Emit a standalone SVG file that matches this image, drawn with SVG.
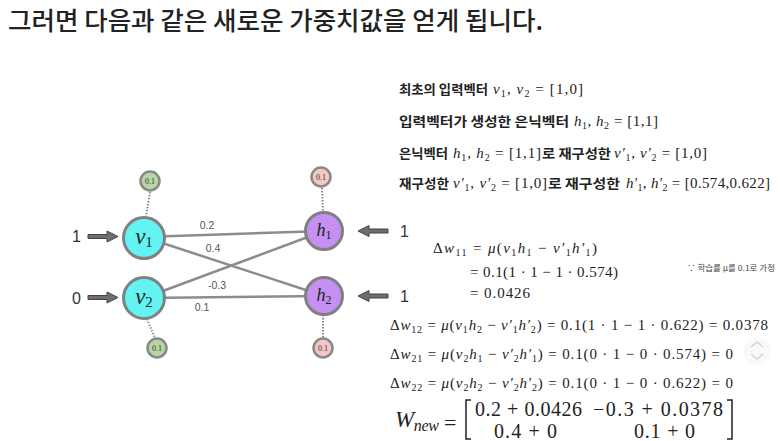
<svg xmlns="http://www.w3.org/2000/svg" width="781" height="441" viewBox="0 0 781 441">
<style>
.title{font-family:"Noto Sans CJK KR","Noto Sans",sans-serif;font-size:25px;fill:#222;font-weight:500}
.kr{font-family:"Noto Sans CJK KR","Noto Sans",sans-serif;font-size:13px;fill:#222;font-weight:700}
.m{font-family:"Liberation Serif","DejaVu Serif",serif;fill:#222}
.mi{font-family:"Liberation Serif","DejaVu Serif",serif;font-style:italic}
.up{font-style:normal}
.eq{font-family:"Liberation Serif","DejaVu Serif",serif;font-size:15px;fill:#222}
.io{font-family:"Liberation Sans","Noto Sans",sans-serif;font-size:16px;fill:#333}
.wl{font-family:"Liberation Sans","Noto Sans",sans-serif;font-size:10.5px;fill:#555;text-anchor:middle}
.edge{stroke:#8c8c8c;stroke-width:2.5;fill:none}
.dot{stroke:#888;stroke-width:2;stroke-dasharray:1.5 1.5;fill:none}
.vn{fill:#63f3f3;stroke:#808080;stroke-width:3}
.hn{fill:#c690f2;stroke:#808080;stroke-width:3}
.bg{fill:#b9d5a3;stroke:#888;stroke-width:2.5}
.bp{fill:#f5c6c6;stroke:#888;stroke-width:2.5}
.bt{font-family:"Liberation Serif",serif;font-size:8px;fill:#333;text-anchor:middle}
.nl{font-family:"Liberation Serif",serif;font-style:italic;fill:#222;text-anchor:middle}
.arr{fill:#6e6e6e;stroke:#444;stroke-width:1}
</style>

<text class="title" x="8" y="30" textLength="535" lengthAdjust="spacingAndGlyphs">그러면 다음과 같은 새로운 가중치값을 얻게 됩니다.</text>

<g id="connectors">
  <line class="edge" x1="144" y1="237" x2="324" y2="231"/>
  <line class="edge" x1="144" y1="237" x2="324" y2="296"/>
  <line class="edge" x1="144" y1="298" x2="324" y2="231"/>
  <line class="edge" x1="144" y1="298" x2="324" y2="296"/>
  <line class="dot" x1="150" y1="192" x2="146" y2="216"/>
  <line class="dot" x1="147" y1="319" x2="155" y2="338"/>
  <line class="dot" x1="322" y1="188" x2="323" y2="212"/>
  <line class="dot" x1="323" y1="315" x2="323" y2="338"/>
  <text class="wl" x="207" y="229">0.2</text>
  <text class="wl" x="213" y="252">0.4</text>
  <text class="wl" x="217" y="289">-0.3</text>
  <text class="wl" x="202" y="311">0.1</text>
  <path class="arr" d="M88,234.5 H107 V231 L118,236.5 L107,242 V238.5 H88 Z"/>
  <path class="arr" d="M88,295.5 H107 V292 L118,297.5 L107,303 V299.5 H88 Z"/>
  <path class="arr" d="M388,229 H369 V225.5 L358,231 L369,236.5 V233 H388 Z"/>
  <path class="arr" d="M388,294 H369 V290.5 L358,296 L369,301.5 V298 H388 Z"/>
</g>

<g id="in1"><text class="io" x="72" y="242">1</text></g>
<g id="in0"><text class="io" x="72" y="304">0</text></g>
<g id="out1"><text class="io" x="400" y="237">1</text></g>
<g id="out2"><text class="io" x="400" y="302">1</text></g>

<g id="v1"><circle class="vn" cx="144" cy="238" r="20.5"/><text class="nl" x="144" y="244" font-size="23">v<tspan class="up" font-size="15" dy="3">1</tspan></text></g>
<g id="v2"><circle class="vn" cx="144" cy="298" r="20.5"/><text class="nl" x="144" y="304" font-size="23">v<tspan class="up" font-size="15" dy="3">2</tspan></text></g>
<g id="h1"><circle class="hn" cx="324" cy="231" r="18.5"/><text class="nl" x="324" y="236" font-size="18">h<tspan class="up" font-size="12" dy="3">1</tspan></text></g>
<g id="h2"><circle class="hn" cx="324" cy="296" r="18.5"/><text class="nl" x="324" y="301" font-size="18">h<tspan class="up" font-size="12" dy="3">2</tspan></text></g>

<g id="bv1"><circle class="bg" cx="150" cy="181" r="9.5"/><text class="bt" x="150" y="184">0.1</text></g>
<g id="bv2"><circle class="bg" cx="157" cy="348" r="9.5"/><text class="bt" x="157" y="351">0.1</text></g>
<g id="bh1"><circle class="bp" cx="321" cy="177" r="9.5"/><text class="bt" x="321" y="180">0.1</text></g>
<g id="bh2"><circle class="bp" cx="323" cy="348" r="9.5"/><text class="bt" x="323" y="351">0.1</text></g>

<g id="info">
  <text class="kr" x="399" y="94" textLength="89" lengthAdjust="spacingAndGlyphs">최초의 입력벡터</text>
  <text class="m" x="493" y="94" font-size="15" textLength="90"><tspan class="mi">v</tspan><tspan font-size="10" dy="3">1</tspan><tspan dy="-3">, </tspan><tspan class="mi">v</tspan><tspan font-size="10" dy="3">2</tspan><tspan dy="-3"> = [1,0]</tspan></text>

  <text class="kr" x="399" y="126" textLength="170" lengthAdjust="spacingAndGlyphs">입력벡터가 생성한 은닉벡터</text>
  <text class="m" x="574" y="126" font-size="15" textLength="84"><tspan class="mi">h</tspan><tspan font-size="10" dy="3">1</tspan><tspan dy="-3">, </tspan><tspan class="mi">h</tspan><tspan font-size="10" dy="3">2</tspan><tspan dy="-3"> = [1,1]</tspan></text>

  <text class="kr" x="399" y="158" textLength="49" lengthAdjust="spacingAndGlyphs">은닉벡터</text>
  <text class="m" x="453" y="158" font-size="15" textLength="88"><tspan class="mi">h</tspan><tspan font-size="10" dy="3">1</tspan><tspan dy="-3">, </tspan><tspan class="mi">h</tspan><tspan font-size="10" dy="3">2</tspan><tspan dy="-3"> = [1,1]</tspan></text>
  <text class="kr" x="542" y="158" textLength="69" lengthAdjust="spacingAndGlyphs">로 재구성한</text>
  <text class="m" x="614" y="158" font-size="15" textLength="93"><tspan class="mi">v′</tspan><tspan font-size="10" dy="3">1</tspan><tspan dy="-3">, </tspan><tspan class="mi">v′</tspan><tspan font-size="10" dy="3">2</tspan><tspan dy="-3"> = [1,0]</tspan></text>

  <text class="kr" x="399" y="188" textLength="50" lengthAdjust="spacingAndGlyphs">재구성한</text>
  <text class="m" x="453" y="188" font-size="15" textLength="94"><tspan class="mi">v′</tspan><tspan font-size="10" dy="3">1</tspan><tspan dy="-3">, </tspan><tspan class="mi">v′</tspan><tspan font-size="10" dy="3">2</tspan><tspan dy="-3"> = [1,0]</tspan></text>
  <text class="kr" x="548" y="188" textLength="72" lengthAdjust="spacingAndGlyphs">로 재구성한</text>
  <text class="m" x="626" y="188" font-size="15" textLength="144"><tspan class="mi">h′</tspan><tspan font-size="10" dy="3">1</tspan><tspan dy="-3">, </tspan><tspan class="mi">h′</tspan><tspan font-size="10" dy="3">2</tspan><tspan dy="-3"> = [0.574,0.622]</tspan></text>
</g>

<g id="equations">
  <text class="eq" x="433" y="253" textLength="164">Δ<tspan class="mi">w</tspan><tspan font-size="10" dy="3">11</tspan><tspan dy="-3"> =  </tspan><tspan class="mi">μ</tspan>(<tspan class="mi">v</tspan><tspan font-size="10" dy="3">1</tspan><tspan class="mi" dy="-3">h</tspan><tspan font-size="10" dy="3">1</tspan><tspan dy="-3"> − </tspan><tspan class="mi">v′</tspan><tspan font-size="10" dy="3">1</tspan><tspan class="mi" dy="-3">h′</tspan><tspan font-size="10" dy="3">1</tspan><tspan dy="-3">)</tspan></text>
  <text class="eq" x="470" y="277" textLength="148">= 0.1(1 · 1 − 1 · 0.574)</text>
  <text class="eq" x="470" y="298" textLength="60">= 0.0426</text>
  <text x="687" y="271" font-family="'Noto Sans CJK KR','Noto Sans',sans-serif" font-size="8" fill="#444" textLength="88" lengthAdjust="spacingAndGlyphs">∵ 학습률 μ를 0.1로 가정</text>

  <text class="eq" x="390" y="330" textLength="378">Δ<tspan class="mi">w</tspan><tspan font-size="10" dy="3">12</tspan><tspan dy="-3"> =  </tspan><tspan class="mi">μ</tspan>(<tspan class="mi">v</tspan><tspan font-size="10" dy="3">1</tspan><tspan class="mi" dy="-3">h</tspan><tspan font-size="10" dy="3">2</tspan><tspan dy="-3"> − </tspan><tspan class="mi">v′</tspan><tspan font-size="10" dy="3">1</tspan><tspan class="mi" dy="-3">h′</tspan><tspan font-size="10" dy="3">2</tspan><tspan dy="-3">) = 0.1(1 · 1 − 1 · 0.622) = 0.0378</tspan></text>
  <text class="eq" x="390" y="359" textLength="343">Δ<tspan class="mi">w</tspan><tspan font-size="10" dy="3">21</tspan><tspan dy="-3"> =  </tspan><tspan class="mi">μ</tspan>(<tspan class="mi">v</tspan><tspan font-size="10" dy="3">2</tspan><tspan class="mi" dy="-3">h</tspan><tspan font-size="10" dy="3">1</tspan><tspan dy="-3"> − </tspan><tspan class="mi">v′</tspan><tspan font-size="10" dy="3">2</tspan><tspan class="mi" dy="-3">h′</tspan><tspan font-size="10" dy="3">1</tspan><tspan dy="-3">) = 0.1(0 · 1 − 0 · 0.574) = 0</tspan></text>
  <text class="eq" x="390" y="388" textLength="343">Δ<tspan class="mi">w</tspan><tspan font-size="10" dy="3">22</tspan><tspan dy="-3"> =  </tspan><tspan class="mi">μ</tspan>(<tspan class="mi">v</tspan><tspan font-size="10" dy="3">2</tspan><tspan class="mi" dy="-3">h</tspan><tspan font-size="10" dy="3">2</tspan><tspan dy="-3"> − </tspan><tspan class="mi">v′</tspan><tspan font-size="10" dy="3">2</tspan><tspan class="mi" dy="-3">h′</tspan><tspan font-size="10" dy="3">2</tspan><tspan dy="-3">) = 0.1(0 · 1 − 0 · 0.622) = 0</tspan></text>
</g>

<g id="wnew">
  <text class="m" x="395" y="427" font-size="23" textLength="44"><tspan class="mi">W</tspan><tspan class="mi" font-size="16" dy="4">new</tspan></text>
  <text class="m" x="444" y="430" font-size="22">=</text>
  <path d="M471,400 H466 V439 H471" fill="none" stroke="#222" stroke-width="1.5"/>
  <path d="M727,400 H732 V439 H727" fill="none" stroke="#222" stroke-width="1.5"/>
  <text class="m" x="475" y="416" font-size="20" textLength="107">0.2 + 0.0426</text>
  <text class="m" x="593" y="416" font-size="20" textLength="130">−0.3 + 0.0378</text>
  <text class="m" x="494" y="438" font-size="20" textLength="63">0.4 + 0</text>
  <text class="m" x="634" y="438" font-size="20" textLength="61">0.1 + 0</text>
</g>

<g id="scroll">
  <circle cx="757" cy="351" r="14" fill="#f7f7f7" opacity="0.8"/>
  <path d="M751,347 L757,342 L763,347 M751,354 L757,359 L763,354" fill="none" stroke="#d4d4d4" stroke-width="1.5"/>
</g>
</svg>
